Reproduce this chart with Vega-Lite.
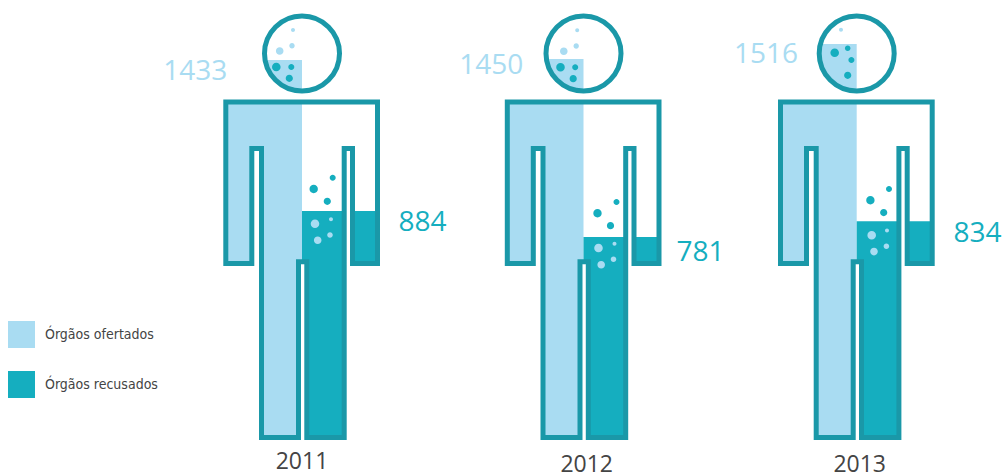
{
  "$schema": "https://vega.github.io/schema/vega-lite/v6.json",
  "width": 1003,
  "height": 476,
  "padding": 0,
  "autosize": {"type": "none"},
  "background": "white",
  "config": {"view": {"stroke": null}},
  "data": {"values": [
    {"ano": 2011, "tipo": "Órgãos ofertados", "orgaos": 1433},
    {"ano": 2011, "tipo": "Órgãos recusados", "orgaos": 884},
    {"ano": 2012, "tipo": "Órgãos ofertados", "orgaos": 1450},
    {"ano": 2012, "tipo": "Órgãos recusados", "orgaos": 781},
    {"ano": 2013, "tipo": "Órgãos ofertados", "orgaos": 1516},
    {"ano": 2013, "tipo": "Órgãos recusados", "orgaos": 834}
  ]},
  "encoding": {
    "x": {"field": "ano", "type": "quantitative", "axis": null,
      "scale": {"domain": [2011, 2012, 2013], "range": [302, 583.5, 856.7], "zero": false, "nice": false, "padding": 0}},
    "y": {"field": "orgaos", "type": "quantitative", "axis": null, "stack": null,
      "scale": {"domain": [0, 781, 834, 884, 1433, 1450, 1516], "range": [440, 237, 221.3, 211, 60, 59, 44], "zero": false, "nice": false}}
  },
  "layer": [
    {
      "transform": [{"filter": "datum.tipo === 'Órgãos ofertados'"}],
      "mark": {"type": "bar", "orient": "vertical", "width": 76, "xOffset": -38},
      "encoding": {
        "color": {"field": "tipo", "type": "nominal",
          "scale": {"domain": ["Órgãos ofertados", "Órgãos recusados"], "range": ["#a9dcf2", "#15aebf"]},
          "legend": {"title": null, "orient": "none", "legendX": 8, "legendY": 321, "padding": 0,
            "symbolType": "square", "symbolSize": 729, "symbolStrokeWidth": 0, "rowPadding": 23,
            "labelOffset": 10, "labelFont": "Liberation Sans Narrow, Arial Narrow, DejaVu Sans Condensed, Roboto", "labelFontSize": 14, "labelColor": "#444444"}}
      }
    },
    {
      "transform": [{"filter": "datum.tipo === 'Órgãos recusados'"}],
      "mark": {"type": "bar", "orient": "vertical", "width": 76, "xOffset": 38},
      "encoding": {
        "color": {"field": "tipo", "type": "nominal",
          "scale": {"domain": ["Órgãos ofertados", "Órgãos recusados"], "range": ["#a9dcf2", "#15aebf"]}}
      }
    },
    {
      "description": "white cover with a figure-shaped opening, so the bars only show inside the body and head",
      "transform": [{"filter": "datum.tipo === 'Órgãos ofertados'"}],
      "mark": {"type": "point", "filled": true, "fill": "white", "stroke": null, "opacity": 1, "size": 4,
        "shape": "M-84 4L84 4L84 -440L-84 -440ZM-76.2 -338L75.5 -338L75.5 -176.5L50.5 -176.5L50.5 -291.5L42.2 -291.5L42.2 -2.5L4.8 -2.5L4.8 -178.2L-3.5 -178.2L-3.5 -2.5L-40.5 -2.5L-40.5 -291.5L-50.2 -291.5L-50.2 -176.5L-76.2 -176.5ZM-37.5 -386.5A37.5 37.5 0 1 1 37.5 -386.5A37.5 37.5 0 1 1 -37.5 -386.5Z"},
      "encoding": {"y": {"datum": 0, "type": "quantitative", "axis": null,
        "scale": {"domain": [0, 1516], "range": [440, 44], "zero": false, "nice": false}}}
    },
    {
      "description": "bubbles floating above the refused-organ level",
      "transform": [{"filter": "datum.tipo === 'Órgãos recusados'"}],
      "mark": {"type": "point", "filled": true, "fill": "#15aebf", "stroke": null, "opacity": 1, "size": 4},
      "encoding": {"shape": {"field": "ano", "type": "nominal", "legend": null, "scale": {"domain": [2011, 2012, 2013], "range": [
        "M27.7 -33.3a3 3 0 1 0 6 0a3 3 0 1 0 -6 0ZM7.5 -22a4.2 4.2 0 1 0 8.4 0a4.2 4.2 0 1 0 -8.4 0ZM21.7 -9.7a3.6 3.6 0 1 0 7.2 0a3.6 3.6 0 1 0 -7.2 0Z",
        "M30 -35a3 3 0 1 0 6 0a3 3 0 1 0 -6 0ZM9.8 -23.7a4.2 4.2 0 1 0 8.4 0a4.2 4.2 0 1 0 -8.4 0ZM23.4 -11.3a3.6 3.6 0 1 0 7.2 0a3.6 3.6 0 1 0 -7.2 0Z",
        "M29.3 -32.3a3 3 0 1 0 6 0a3 3 0 1 0 -6 0ZM9.5 -21a4.2 4.2 0 1 0 8.4 0a4.2 4.2 0 1 0 -8.4 0ZM23.4 -8.7a3.6 3.6 0 1 0 7.2 0a3.6 3.6 0 1 0 -7.2 0Z"
      ]}}}
    },
    {
      "description": "bubbles inside the refused-organ level",
      "transform": [{"filter": "datum.tipo === 'Órgãos recusados'"}],
      "mark": {"type": "point", "filled": true, "fill": "#a9dcf2", "stroke": null, "opacity": 1, "size": 4},
      "encoding": {"shape": {"field": "ano", "type": "nominal", "legend": null, "scale": {"domain": [2011, 2012, 2013], "range": [
        "M27 8.3a2 2 0 1 0 4 0a2 2 0 1 0 -4 0ZM8.7 12.7a4.3 4.3 0 1 0 8.6 0a4.3 4.3 0 1 0 -8.6 0ZM25.2 24a2.8 2.8 0 1 0 5.6 0a2.8 2.8 0 1 0 -5.6 0ZM11.9 29.3a3.8 3.8 0 1 0 7.6 0a3.8 3.8 0 1 0 -7.6 0Z",
        "M29 6.7a2 2 0 1 0 4 0a2 2 0 1 0 -4 0ZM10.7 11a4.3 4.3 0 1 0 8.6 0a4.3 4.3 0 1 0 -8.6 0ZM27.2 22.3a2.8 2.8 0 1 0 5.6 0a2.8 2.8 0 1 0 -5.6 0ZM13.9 27.7a3.8 3.8 0 1 0 7.6 0a3.8 3.8 0 1 0 -7.6 0Z",
        "M28.3 9.3a2 2 0 1 0 4 0a2 2 0 1 0 -4 0ZM10.7 14a4.3 4.3 0 1 0 8.6 0a4.3 4.3 0 1 0 -8.6 0ZM26.9 25a2.8 2.8 0 1 0 5.6 0a2.8 2.8 0 1 0 -5.6 0ZM13.5 30.3a3.8 3.8 0 1 0 7.6 0a3.8 3.8 0 1 0 -7.6 0Z"
      ]}}}
    },
    {
      "description": "pale bubbles in the head",
      "transform": [{"filter": "datum.tipo === 'Órgãos ofertados'"}],
      "mark": {"type": "point", "filled": true, "fill": "#a9dcf2", "stroke": null, "opacity": 1, "size": 4},
      "encoding": {
        "y": {"datum": 0, "type": "quantitative", "axis": null,
          "scale": {"domain": [0, 1516], "range": [440, 44], "zero": false, "nice": false}},
        "shape": {"field": "ano", "type": "nominal", "legend": null, "scale": {"domain": [2011, 2012, 2013], "range": [
          "M-11 -410a2 2 0 1 0 4 0a2 2 0 1 0 -4 0ZM-12.7 -394.3a2.7 2.7 0 1 0 5.4 0a2.7 2.7 0 1 0 -5.4 0ZM-26.1 -389a3.8 3.8 0 1 0 7.6 0a3.8 3.8 0 1 0 -7.6 0Z",
          "M-8.3 -409.7a2 2 0 1 0 4 0a2 2 0 1 0 -4 0ZM-10 -394a2.7 2.7 0 1 0 5.4 0a2.7 2.7 0 1 0 -5.4 0ZM-23.5 -388.7a3.8 3.8 0 1 0 7.6 0a3.8 3.8 0 1 0 -7.6 0Z",
          "M-17.7 -410.3a2 2 0 1 0 4 0a2 2 0 1 0 -4 0Z"
        ]}}
      }
    },
    {
      "description": "saturated bubbles in the head",
      "transform": [{"filter": "datum.tipo === 'Órgãos ofertados'"}],
      "mark": {"type": "point", "filled": true, "fill": "#15aebf", "stroke": null, "opacity": 1, "size": 4},
      "encoding": {
        "y": {"datum": 0, "type": "quantitative", "axis": null,
          "scale": {"domain": [0, 1516], "range": [440, 44], "zero": false, "nice": false}},
        "shape": {"field": "ano", "type": "nominal", "legend": null, "scale": {"domain": [2011, 2012, 2013], "range": [
          "M-30 -373a4.3 4.3 0 1 0 8.6 0a4.3 4.3 0 1 0 -8.6 0ZM-13.7 -373a3 3 0 1 0 6 0a3 3 0 1 0 -6 0ZM-16.3 -361.7a3.6 3.6 0 1 0 7.2 0a3.6 3.6 0 1 0 -7.2 0Z",
          "M-27.3 -372.7a4.3 4.3 0 1 0 8.6 0a4.3 4.3 0 1 0 -8.6 0ZM-11.3 -372.7a3 3 0 1 0 6 0a3 3 0 1 0 -6 0ZM-13.9 -361.3a3.6 3.6 0 1 0 7.2 0a3.6 3.6 0 1 0 -7.2 0Z",
          "M-26.3 -387.3a4.3 4.3 0 1 0 8.6 0a4.3 4.3 0 1 0 -8.6 0ZM-11.8 -391.7a2.8 2.8 0 1 0 5.6 0a2.8 2.8 0 1 0 -5.6 0ZM-8.3 -380a3 3 0 1 0 6 0a3 3 0 1 0 -6 0ZM-12.6 -364.7a3.6 3.6 0 1 0 7.2 0a3.6 3.6 0 1 0 -7.2 0Z"
        ]}}
      }
    },
    {
      "description": "figure outline: body and head",
      "transform": [{"filter": "datum.tipo === 'Órgãos ofertados'"}],
      "mark": {"type": "point", "filled": false, "fill": null, "stroke": "#1a98a8", "strokeWidth": 5, "strokeJoin": "miter", "strokeMiterLimit": 10, "opacity": 1, "size": 4,
        "shape": "M-76.2 -338L75.5 -338L75.5 -176.5L50.5 -176.5L50.5 -291.5L42.2 -291.5L42.2 -2.5L4.8 -2.5L4.8 -178.2L-3.5 -178.2L-3.5 -2.5L-40.5 -2.5L-40.5 -291.5L-50.2 -291.5L-50.2 -176.5L-76.2 -176.5ZM-37.5 -386.5A37.5 37.5 0 1 1 37.5 -386.5A37.5 37.5 0 1 1 -37.5 -386.5Z"},
      "encoding": {"y": {"datum": 0, "type": "quantitative", "axis": null,
        "scale": {"domain": [0, 1516], "range": [440, 44], "zero": false, "nice": false}}}
    },
    {
      "transform": [{"filter": "datum.tipo === 'Órgãos ofertados'"}],
      "mark": {"type": "text", "font": "Open Sans", "fontSize": 28, "align": "center", "baseline": "middle", "fill": "#a9dcf2"},
      "encoding": {
        "text": {"field": "orgaos", "type": "nominal"},
        "x": {"field": "ano", "type": "quantitative", "axis": null,
          "scale": {"domain": [2011, 2012, 2013], "range": [195.3, 491.3, 766], "zero": false, "nice": false}},
        "y": {"field": "orgaos", "type": "quantitative", "axis": null,
          "scale": {"domain": [1433, 1450, 1516], "range": [71.7, 65.7, 55], "zero": false, "nice": false}}
      }
    },
    {
      "transform": [{"filter": "datum.tipo === 'Órgãos recusados'"}],
      "mark": {"type": "text", "font": "Open Sans", "fontSize": 28, "align": "center", "baseline": "middle", "fill": "#15aebf"},
      "encoding": {
        "text": {"field": "orgaos", "type": "nominal"},
        "x": {"field": "ano", "type": "quantitative", "axis": null,
          "scale": {"domain": [2011, 2012, 2013], "range": [422.5, 700.5, 977.5], "zero": false, "nice": false}},
        "y": {"field": "orgaos", "type": "quantitative", "axis": null,
          "scale": {"domain": [781, 834, 884], "range": [253.3, 234.3, 222.7], "zero": false, "nice": false}}
      }
    },
    {
      "transform": [{"filter": "datum.tipo === 'Órgãos ofertados'"}],
      "mark": {"type": "text", "font": "Open Sans", "fontSize": 23, "align": "center", "baseline": "middle", "fill": "#444444"},
      "encoding": {
        "text": {"field": "ano", "type": "nominal"},
        "x": {"field": "ano", "type": "quantitative", "axis": null,
          "scale": {"domain": [2011, 2012, 2013], "range": [302, 586.7, 859.7], "zero": false, "nice": false}},
        "y": {"field": "ano", "type": "quantitative", "axis": null,
          "scale": {"domain": [2011, 2012, 2013], "range": [462, 465, 465], "zero": false, "nice": false}}
      }
    }
  ],
  "resolve": {"scale": {"x": "independent", "y": "independent", "shape": "independent"}}
}
